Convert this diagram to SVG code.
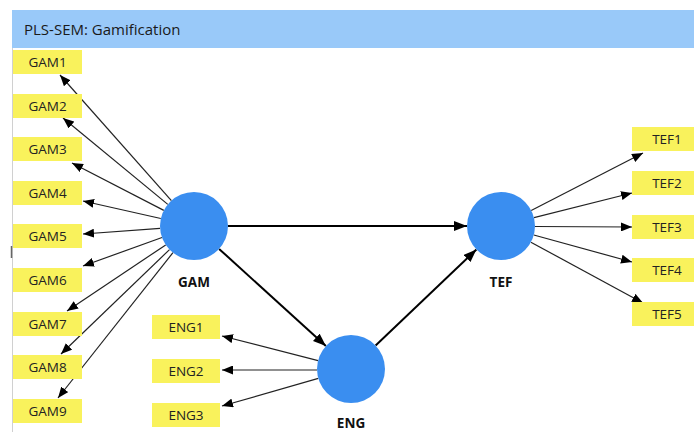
<svg xmlns="http://www.w3.org/2000/svg" width="694" height="432" viewBox="0 0 694 432">
<defs>
<marker id="ah" markerUnits="userSpaceOnUse" markerWidth="11" markerHeight="9" refX="11" refY="4.5" orient="auto"><path d="M0,0 L11,4.5 L0,9 z" fill="#000"/></marker>
<marker id="ahb" markerUnits="userSpaceOnUse" markerWidth="13" markerHeight="10" refX="13" refY="5" orient="auto"><path d="M0,0 L13,5 L0,10 z" fill="#000"/></marker>
</defs>
<style>
.box{fill:#f9f25c}
.bt{font-family:"Open Sans","Noto Sans","Liberation Sans",sans-serif;font-size:13.5px;fill:#222;text-anchor:middle}
.lv{fill:#3a8ef0}
.lt{font-family:"Open Sans","Liberation Sans",sans-serif;font-size:13.5px;font-weight:bold;fill:#111;text-anchor:middle}
.ind{stroke:#222;stroke-width:1.2;fill:none;marker-end:url(#ah)}
.str{stroke:#000;stroke-width:2;fill:none;marker-end:url(#ahb)}
</style>
<rect x="0" y="0" width="694" height="432" fill="#fff"/>
<line x1="12.5" y1="48" x2="12.5" y2="432" stroke="#d0d0d0" stroke-width="1"/>
<line x1="11.5" y1="246" x2="11.5" y2="258" stroke="#666" stroke-width="1.5"/>
<g id="header">
<rect x="12" y="10" width="682" height="38" fill="#99c9f9"/>
<text x="24" y="35" font-family="Open Sans,Noto Sans,sans-serif" font-size="15" fill="#1a1a1a">PLS-SEM: Gamification</text>
</g>
<g id="connectors">
<line class="ind" x1="171.4" y1="200.6" x2="60" y2="75"/>
<line class="ind" x1="167.8" y1="204.4" x2="63" y2="118"/>
<line class="ind" x1="163.8" y1="210.4" x2="72" y2="163"/>
<line class="ind" x1="160.8" y1="218.5" x2="83" y2="201"/>
<line class="ind" x1="160.1" y1="228.4" x2="83" y2="234"/>
<line class="ind" x1="162" y1="237.5" x2="83" y2="266"/>
<line class="ind" x1="165.7" y1="244.9" x2="67" y2="311"/>
<line class="ind" x1="169.5" y1="249.6" x2="61" y2="354"/>
<line class="ind" x1="172.9" y1="252.7" x2="58" y2="398"/>
<line class="ind" x1="318.1" y1="360.6" x2="222" y2="336"/>
<line class="ind" x1="317" y1="370" x2="222" y2="370"/>
<line class="ind" x1="318.3" y1="378.4" x2="222" y2="406"/>
<line class="ind" x1="531.2" y1="210.5" x2="643" y2="153"/>
<line class="ind" x1="534" y1="217.7" x2="632" y2="193"/>
<line class="ind" x1="535" y1="226.5" x2="632" y2="227"/>
<line class="ind" x1="533.8" y1="235" x2="632" y2="262"/>
<line class="ind" x1="530.9" y1="242.2" x2="643" y2="303"/>
<line class="str" x1="228" y1="226" x2="467" y2="226"/>
<line class="str" x1="219.1" y1="248.9" x2="325.9" y2="346.1"/>
<line class="str" x1="375.6" y1="345.5" x2="476.4" y2="249.5"/>
</g>
<g id="GAM1"><rect class="box" x="13" y="50" width="69" height="24"/><text class="bt" x="47.5" y="67">GAM1</text></g>
<g id="GAM2"><rect class="box" x="13" y="94" width="69" height="24"/><text class="bt" x="47.5" y="111">GAM2</text></g>
<g id="GAM3"><rect class="box" x="13" y="137" width="69" height="24"/><text class="bt" x="47.5" y="154">GAM3</text></g>
<g id="GAM4"><rect class="box" x="13" y="181" width="69" height="24"/><text class="bt" x="47.5" y="198">GAM4</text></g>
<g id="GAM5"><rect class="box" x="13" y="224" width="69" height="24"/><text class="bt" x="47.5" y="241">GAM5</text></g>
<g id="GAM6"><rect class="box" x="13" y="268" width="69" height="24"/><text class="bt" x="47.5" y="285">GAM6</text></g>
<g id="GAM7"><rect class="box" x="13" y="312" width="69" height="24"/><text class="bt" x="47.5" y="329">GAM7</text></g>
<g id="GAM8"><rect class="box" x="13" y="355" width="69" height="24"/><text class="bt" x="47.5" y="372">GAM8</text></g>
<g id="GAM9"><rect class="box" x="13" y="399" width="69" height="24"/><text class="bt" x="47.5" y="416">GAM9</text></g>
<g id="ENG1"><rect class="box" x="152" y="315" width="68" height="24"/><text class="bt" x="186" y="332">ENG1</text></g>
<g id="ENG2"><rect class="box" x="152" y="359" width="68" height="24"/><text class="bt" x="186" y="376">ENG2</text></g>
<g id="ENG3"><rect class="box" x="152" y="403" width="68" height="24"/><text class="bt" x="186" y="420">ENG3</text></g>
<g id="TEF1"><rect class="box" x="632" y="127" width="62" height="24"/><text class="bt" x="667" y="144">TEF1</text></g>
<g id="TEF2"><rect class="box" x="632" y="171" width="62" height="24"/><text class="bt" x="667" y="188">TEF2</text></g>
<g id="TEF3"><rect class="box" x="632" y="215" width="62" height="24"/><text class="bt" x="667" y="232">TEF3</text></g>
<g id="TEF4"><rect class="box" x="632" y="258" width="62" height="24"/><text class="bt" x="667" y="275">TEF4</text></g>
<g id="TEF5"><rect class="box" x="632" y="302" width="62" height="24"/><text class="bt" x="667" y="319">TEF5</text></g>
<g id="GAM"><circle class="lv" cx="194" cy="226" r="34"/><text class="lt" x="194" y="287">GAM</text></g>
<g id="TEF"><circle class="lv" cx="501" cy="226" r="34"/><text class="lt" x="501" y="287">TEF</text></g>
<g id="ENG"><circle class="lv" cx="351" cy="369" r="34"/><text class="lt" x="351" y="428">ENG</text></g>
</svg>
